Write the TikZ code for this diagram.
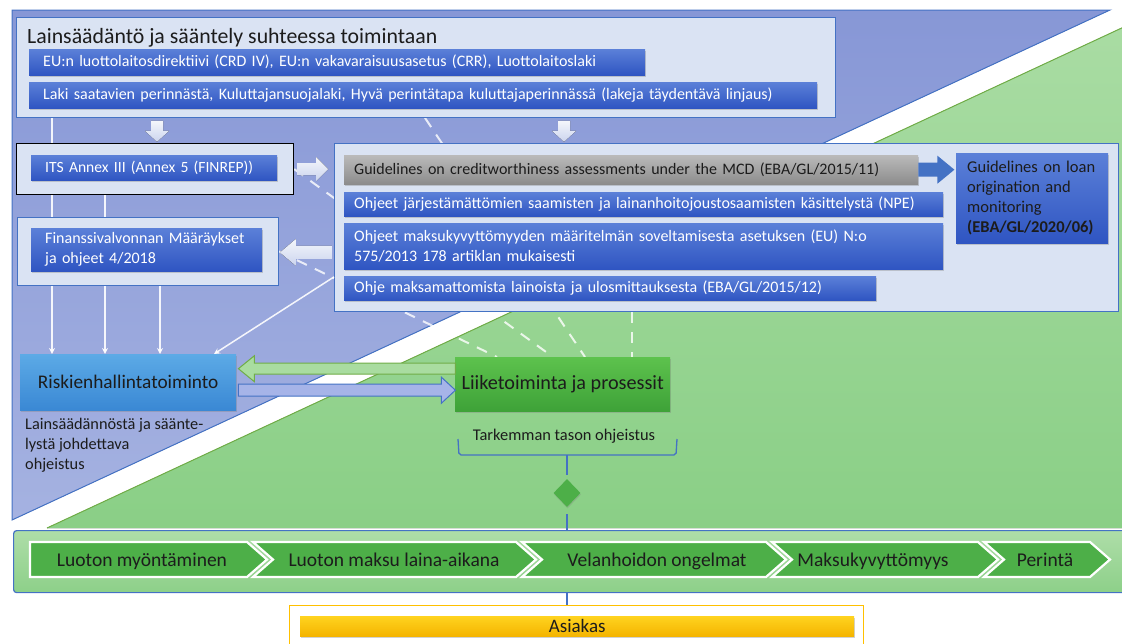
\documentclass[tikz,border=0pt]{standalone}
\usepackage{fontspec}
\setmainfont{Carlito}
\usetikzlibrary{shadows,arrows.meta,shapes.geometric,calc}
\definecolor{bgblueT}{HTML}{8797D6}
\definecolor{bgblueB}{HTML}{A5B2E1}
\definecolor{bggreenT}{HTML}{A9DCA3}
\definecolor{bggreenB}{HTML}{8ACF86}
\definecolor{edgeblue}{HTML}{4472C4}
\definecolor{edgegreen}{HTML}{70AD47}
\definecolor{boxfill}{HTML}{DAE3F3}
\definecolor{bartop}{HTML}{5B80D8}
\definecolor{barbot}{HTML}{2F55C2}
\definecolor{graytop}{HTML}{BABABA}
\definecolor{graybot}{HTML}{8C8C8C}
\definecolor{risktop}{HTML}{5CAAE6}
\definecolor{riskbot}{HTML}{3A88D4}
\definecolor{biztop}{HTML}{5DC24D}
\definecolor{bizbot}{HTML}{3EA238}
\definecolor{chevgreen}{HTML}{4DAF48}
\definecolor{bandT}{HTML}{AEDDA8}
\definecolor{bandB}{HTML}{8DD089}
\definecolor{ytop}{HTML}{FFD31F}
\definecolor{ybot}{HTML}{F4B400}
\definecolor{ybord}{HTML}{FFC000}
\definecolor{txt}{HTML}{1C1C1C}
\definecolor{arrowT}{HTML}{F4F6FB}
\definecolor{arrowB}{HTML}{CBD4EE}
\definecolor{garrow}{HTML}{A9DCA0}
\definecolor{barrow}{HTML}{A6B4E8}
\pgfdeclarelayer{bg}
\pgfsetlayers{bg,main}
\newcommand\myfs[2]{\fontsize{#1}{#2}\selectfont}
\tikzset{
  panel/.style={draw=edgeblue, line width=0.9pt, fill=boxfill, inner sep=0pt, anchor=north west},
  bluebar/.style={top color=bartop, bottom color=barbot, draw=none, text=white, anchor=north west,
    inner xsep=10pt, inner ysep=0pt, align=left, font=\myfs{16}{19},
    drop shadow={opacity=0.35, shadow xshift=1pt, shadow yshift=-2pt}},
  graybar/.style={bluebar, top color=graytop, bottom color=graybot, text=txt},
  bigbox/.style={anchor=north west, inner sep=0pt, text=txt, font=\myfs{19.3}{22},
    drop shadow={opacity=0.35, shadow xshift=1pt, shadow yshift=-2pt}},
  wline/.style={draw=white, line width=1.5pt, opacity=0.9},
  wdash/.style={draw=white, line width=2pt, opacity=0.8, dash pattern=on 11pt off 9pt},
  blockw/.style={top color=arrowT, bottom color=arrowB, draw=none},
  chev/.style={fill=chevgreen, draw=white, line width=2.2pt, line join=miter},
  chevtext/.style={text=txt, font=\myfs{19.5}{21}, inner sep=0pt, anchor=base},
  conn/.style={draw=edgeblue, line width=2pt}
}
\begin{document}
\begin{tikzpicture}[x=1pt,y=-1pt]
\useasboundingbox (0,0) rectangle (1122,643);
\begin{pgfonlayer}{bg}
  \fill[top color=bgblueT, bottom color=bgblueB] (12,10) -- (1110,10) -- (12,520) -- cycle;
  \draw[edgeblue, line width=1pt] (12,520) -- (12,10) -- (1110,10) -- cycle;
  \fill[top color=bggreenT, bottom color=bggreenB] (47,528) -- (1126,26) -- (1126,528) -- cycle;
  \draw[edgegreen, line width=1pt] (47,528) -- (1126,26);
\end{pgfonlayer}

% law box
\node[panel, minimum width=819pt, minimum height=100pt] (law) at (16,17) {};
\node[anchor=base west, inner sep=0pt, text=txt, font=\myfs{21.8}{24}] (lawtitle) at (27,43) {Lainsäädäntö ja sääntely suhteessa toimintaan};
\node[bluebar, inner xsep=14pt, text width=588pt, minimum height=26pt] (eu) at (29,49) {EU:n luottolaitosdirektiivi (CRD IV), EU:n vakavaraisuusasetus (CRR), Luottolaitoslaki};
\node[bluebar, inner xsep=14pt, text width=760pt, minimum height=26pt] (laki) at (29,82) {Laki saatavien perinnästä, Kuluttajansuojalaki, Hyvä perintätapa kuluttajaperinnässä (lakeja täydentävä linjaus)};

% ITS
\node[draw=black, line width=1.2pt, fill=boxfill, minimum width=277pt, minimum height=51pt, anchor=north west, inner sep=0pt] (its) at (16,143) {};
\node[bluebar, inner xsep=14pt, text width=218pt, minimum height=25pt, font=\myfs{15.6}{18}] (itsbar) at (31,155) {ITS Annex III (Annex 5 (FINREP))};

% big guidelines box
\node[panel, minimum width=784pt, minimum height=168pt] (big) at (334,143) {};
\node[graybar, text width=554pt, minimum height=29pt] (mcd) at (344,155) {Guidelines on creditworthiness assessments under the MCD (EBA/GL/2015/11)};
\node[bluebar, text width=579pt, minimum height=24pt] (npe) at (344,192) {Ohjeet järjestämättömien saamisten ja lainanhoitojoustosaamisten käsittelystä (NPE)};
\node[bluebar, text width=579pt, minimum height=46pt, font=\myfs{16}{20}] (dod) at (344,223) {Ohjeet maksukyvyttömyyden määritelmän soveltamisesta asetuksen (EU) N:o\\575/2013 178 artiklan mukaisesti};
\node[bluebar, text width=512pt, minimum height=24pt] (forecl) at (344,276) {Ohje maksamattomista lainoista ja ulosmittauksesta (EBA/GL/2015/12)};
\node[bluebar, text=txt, inner xsep=11pt, text width=130pt, minimum height=90pt, font=\myfs{16.5}{20}] (loan) at (956,153) {Guidelines on loan\\origination and\\monitoring\\\textbf{(EBA/GL/2020/06)}};

% Fiva
\node[panel, minimum width=261pt, minimum height=68pt] (fiva) at (17,217) {};
\node[bluebar, inner xsep=14pt, text width=203pt, minimum height=43pt, font=\myfs{16}{20}] (fivabar) at (31,228) {Finanssivalvonnan Määräykset\\ja ohjeet 4/2018};

% risk and business boxes
\node[bigbox, top color=risktop, bottom color=riskbot, minimum width=216pt, minimum height=56pt] (risk) at (20,354) {Riskienhallintatoiminto};
\node[bigbox, top color=biztop, bottom color=bizbot, minimum width=215pt, minimum height=54pt, font=\myfs{20.2}{22}] (biz) at (455,357) {Liiketoiminta ja prosessit};

% dashed links (behind)
\begin{pgfonlayer}{bg}
  \draw[wdash] (fiva.east) -- ($(biz.north west)+(42,0)$);
  \draw[wdash] (its.east) -- ($(biz.north west)+(98,0)$);
  \draw[wdash] ($(law.south west)+(409,0)$) -- ($(biz.north west)+(130,0)$);
  \draw[wdash] ($(big.south west)+(298,0)$) -- ($(biz.north west)+(177,0)$);
\end{pgfonlayer}

\node[anchor=north west, inner sep=0pt, align=left, text=txt, font=\myfs{16.3}{20}] (risklabel) at (25,418) {Lainsäädännöstä ja säänte-\\lystä johdettava\\ohjeistus};

% thin white connectors
\draw[wline] ($(law.south west)+(36,0)$) -- ($(its.north west)+(36,0)$);
\draw[wline] ($(its.south west)+(36,0)$) -- ($(fiva.north west)+(35,0)$);
\draw[wline] ($(its.south west)+(89,0)$) -- ($(fiva.north west)+(88,0)$);
\draw[wline, -{Stealth[length=6pt,width=6pt]}] ($(fiva.south west)+(35,0)$) -- ($(risk.north west)+(32,0)$);
\draw[wline, -{Stealth[length=6pt,width=6pt]}] ($(fiva.south west)+(88,0)$) -- ($(risk.north west)+(85,0)$);
\draw[wline, -{Stealth[length=6pt,width=6pt]}] ($(fiva.south west)+(143,0)$) -- ($(risk.north west)+(140,0)$);
\draw[wline, -{Stealth[length=6pt,width=6pt]}] ($(big.south west)+(0,-35)$) -- ($(risk.north west)+(194,0)$);

% block arrows
\coordinate (a1) at ($(law.south west)+(141,3)$);
\fill[blockw, shift={(a1)}] (-6,0) -- (6,0) -- (6,10) -- (12,10) -- (0,21) -- (-12,10) -- (-6,10) -- cycle;
\coordinate (a2) at ($(law.south west)+(548,3)$);
\fill[blockw, shift={(a2)}] (-6,0) -- (6,0) -- (6,10) -- (12,10) -- (0,21) -- (-12,10) -- (-6,10) -- cycle;
\coordinate (a3) at ($(its.east)+(3,0)$);
\fill[blockw, shift={(a3)}] (0,-6) -- (19,-6) -- (19,-12) -- (31,0) -- (19,12) -- (19,6) -- (0,6) -- cycle;
\coordinate (a4) at ($(fiva.east)+(1,1)$);
\fill[blockw, shift={(a4)}] (0,0) -- (16,-13.5) -- (16,-6.5) -- (52,-6.5) -- (52,6.5) -- (16,6.5) -- (16,13.5) -- cycle;
\coordinate (a5) at (mcd.east);
\fill[edgeblue, shift={(a5)}] (0,-7) -- (19,-7) -- (19,-14) -- (36,0) -- (19,14) -- (19,7) -- (0,7) -- cycle;

% risk <-> business arrows
\coordinate (ga) at ($(risk.east)+(2,-13.5)$);
\filldraw[fill=garrow, draw=edgegreen, line width=1pt, shift={(ga)}] (0,0) -- (16,-13) -- (16,-5.5) -- (217,-5.5) -- (217,5.5) -- (16,5.5) -- (16,13) -- cycle;
\coordinate (ba) at ($(risk.east)+(2,8)$);
\filldraw[fill=barrow, draw=edgeblue, line width=1pt, shift={(ba)}] (0,-6) -- (203,-6) -- (203,-13) -- (217,0) -- (203,13) -- (203,6) -- (0,6) -- cycle;

% detail label with bracket
\node[text=txt, font=\myfs{16.4}{18}, inner sep=0pt] (detail) at (564,436) {Tarkemman tason ohjeistus};
\draw[edgeblue, line width=1.3pt, rounded corners=2pt] (458,439) -- (459,455) -- (676,455) -- (677,439);
\coordinate (brace) at (567,455);
\node[diamond, fill=chevgreen, minimum width=27pt, minimum height=28pt, inner sep=0pt,
  drop shadow={opacity=0.3, shadow xshift=0.5pt, shadow yshift=-1.5pt}] (dia) at (567,493) {};
\draw[conn] (brace) -- ($(dia.north)+(0,-4)$);

% process band
\node[anchor=north west, minimum width=1115pt, minimum height=62pt, top color=bandT, bottom color=bandB,
  draw=edgeblue, line width=1.2pt, rounded corners=3pt, inner sep=0pt] (band) at (13,530) {};
\draw[conn] ($(dia.south)+(0,7)$) -- (band.north -| dia.south);

\draw[chev] (30,542) -- (247,542) -- (267,559.5) -- (247,577) -- (30,577) -- cycle;
\draw[chev] (253,542) -- (516,542) -- (536,559.5) -- (516,577) -- (253,577) -- (273,559.5) -- cycle;
\draw[chev] (522,542) -- (766,542) -- (786,559.5) -- (766,577) -- (522,577) -- (542,559.5) -- cycle;
\draw[chev] (772,542) -- (978,542) -- (998,559.5) -- (978,577) -- (772,577) -- (792,559.5) -- cycle;
\draw[chev] (984,542) -- (1090,542) -- (1110,559.5) -- (1090,577) -- (984,577) -- (1004,559.5) -- cycle;
\node[chevtext] (c1) at (142,566) {Luoton myöntäminen};
\node[chevtext] (c2) at (394,566) {Luoton maksu laina-aikana};
\node[chevtext] (c3) at (657,566) {Velanhoidon ongelmat};
\node[chevtext] (c4) at (873,566) {Maksukyvyttömyys};
\node[chevtext] (c5) at (1045,566) {Perintä};

% customer
\node[draw=ybord, line width=1pt, fill=white, minimum width=574pt, minimum height=50pt, anchor=north west, inner sep=0pt] (client) at (289,605) {};
\node[top color=ytop, bottom color=ybot, minimum width=554pt, minimum height=20pt, anchor=north west, inner sep=0pt,
  font=\myfs{19}{20}, text=txt, drop shadow={opacity=0.35, shadow xshift=1pt, shadow yshift=-2pt}] (clientbar) at (300,616) {Asiakas};
\draw[conn] (band.south -| dia.south) -- (client.north -| dia.south);
\end{tikzpicture}
\end{document}
